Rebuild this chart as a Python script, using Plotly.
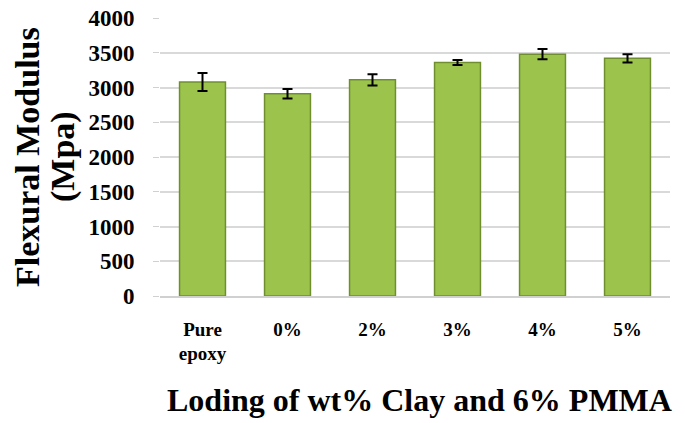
import plotly.graph_objects as go

categories = ["Pure<br>epoxy", "0%", "2%", "3%", "4%", "5%"]
modulus = [3080, 2910, 3110, 3360, 3480, 3420]
errors = [130, 70, 80, 35, 75, 60]
y_ticks = [0, 500, 1000, 1500, 2000, 2500, 3000, 3500, 4000]
y_title_lines = ["<b>Flexural Modulus</b>", "<b>(Mpa)</b>"]
x_title = "<b>Loding of wt% Clay and 6% PMMA</b>"

fig = go.Figure()
fig.add_trace(go.Bar(
    x=categories, y=modulus,
    marker=dict(color="#9cc44c", line=dict(color="#6f8f2e", width=1.5)),
    width=0.54,
    error_y=dict(type="data", array=errors, visible=True, color="black", thickness=2, width=5),
))

font = "Liberation Serif"
fig.update_layout(
    width=685, height=423,
    margin=dict(l=152, r=23, t=10, b=135),
    paper_bgcolor="white", plot_bgcolor="white",
    showlegend=False,
    font=dict(family=font, color="black"),
    xaxis=dict(
        automargin=False,
        tickfont=dict(size=19, family=font, color="black", weight="bold"),
        ticklabelstandoff=15,
        showline=True, linecolor="#d0d0d0", linewidth=1.5,
        ticks="", showgrid=False,
    ),
    yaxis=dict(
        automargin=False,
        range=[0, 4000], tickvals=y_ticks,
        tickfont=dict(size=23, family=font, color="black", weight="bold"),
        ticklabeloverflow="allow",
        ticklabelstandoff=14,
        showgrid=True, gridcolor="#d9d9d9", gridwidth=1.5,
        ticks="outside", ticklen=6, tickcolor="#d0d0d0",
        showline=False, zeroline=False,
    ),
    bargap=0.46,
)

for line, shift in zip(y_title_lines, [-133, -97]):
    fig.add_annotation(
        text=line, xref="paper", yref="paper", x=0, y=0.5,
        xanchor="center", yanchor="middle", xshift=shift,
        textangle=-90, showarrow=False,
        font=dict(size=34, family=font, color="black"),
    )

fig.add_annotation(
    text=x_title, xref="paper", yref="paper", x=0.5, y=0,
    xanchor="center", yanchor="middle", xshift=4, yshift=-104,
    showarrow=False, font=dict(size=32, family=font, color="black"),
)

fig.write_html("out.html")
